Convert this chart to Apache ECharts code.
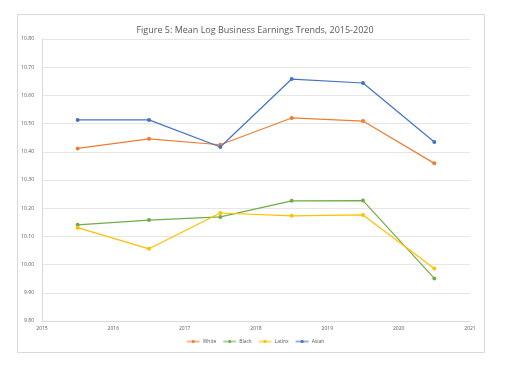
<!DOCTYPE html>
<html>
<head>
<meta charset="utf-8">
<script src="https://cdn.jsdelivr.net/npm/echarts@6/dist/echarts.min.js"></script>
<style>
html,body{margin:0;padding:0;background:#fff;}
#c{width:510px;height:374px;}
</style>
</head>
<body>
<div id="c"></div>
<script>
var years = [2015.5, 2016.5, 2017.5, 2018.5, 2019.5, 2020.5];
var white = [10.412, 10.446, 10.425, 10.520, 10.509, 10.359];
var black = [10.141, 10.158, 10.169, 10.226, 10.227, 9.951];
var latinx = [10.131, 10.056, 10.183, 10.173, 10.176, 9.986];
var asian = [10.513, 10.513, 10.417, 10.658, 10.644, 10.435];
var seriesNames = ['White', 'Black', 'Latinx', 'Asian'];
var seriesColors = ['#ED7D31', '#70AD47', '#FFC000', '#4472C4'];
var seriesData = [white, black, latinx, asian];

var chart = echarts.init(document.getElementById('c'), null, {renderer: 'canvas'});
var font = '"Open Sans", "Liberation Sans", sans-serif';
var option = {
  animation: false,
  textStyle: {fontFamily: font},
  graphic: [{
    type: 'rect',
    shape: {x: 17.5, y: 14.5, width: 467, height: 338},
    style: {fill: '#fff', stroke: '#d9d9d9', lineWidth: 1},
    z: -10
  }],
  title: {
    text: 'Figure 5: Mean Log Business Earnings Trends, 2015-2020',
    left: 'center',
    top: 21,
    textStyle: {fontSize: 9, fontWeight: 'normal', color: '#595959', fontFamily: font}
  },
  legend: {
    bottom: 25,
    left: 'center',
    itemWidth: 13,
    itemHeight: 4,
    itemGap: 6,
    textStyle: {fontSize: 5, color: '#595959', padding: [0, 0, 0, -2]},
    lineStyle: {opacity: 0.55},
    data: seriesNames
  },
  grid: {left: 42, right: 40, top: 39, bottom: 53, containLabel: false},
  xAxis: {
    type: 'value',
    min: 2015, max: 2021, interval: 1,
    axisLine: {show: true, lineStyle: {color: '#d9d9d9'}},
    axisTick: {show: false},
    splitLine: {show: false},
    axisLabel: {fontSize: 5, color: '#595959', margin: 5, formatter: function(v){return String(v);}}
  },
  yAxis: {
    type: 'value',
    min: 9.8, max: 10.8, interval: 0.1,
    axisLine: {show: true, lineStyle: {color: '#d9d9d9'}},
    axisTick: {show: false},
    splitLine: {show: true, lineStyle: {color: '#e6e6e6', width: 1}},
    axisLabel: {fontSize: 5, color: '#595959', margin: 8, formatter: function(v){return v.toFixed(2);}}
  },
  series: seriesNames.map(function(n, i){
    return {
      name: n,
      type: 'line',
      data: years.map(function(x, j){return [x, seriesData[i][j]];}),
      symbol: 'circle',
      symbolSize: 4,
      itemStyle: {color: seriesColors[i]},
      lineStyle: {color: seriesColors[i], width: 1.2}
    };
  })
};
chart.setOption(option);
</script>
</body>
</html>
